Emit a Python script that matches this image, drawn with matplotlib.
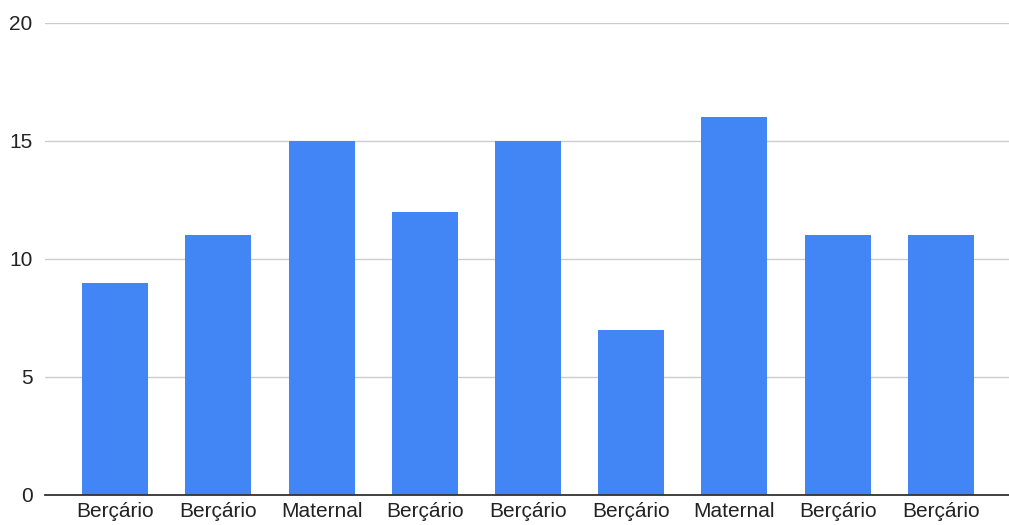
import matplotlib.pyplot as plt
import numpy as np

plt.rcParams['font.family'] = ['Liberation Sans', 'DejaVu Sans']

categorias = ['Berçário', 'Berçário', 'Maternal', 'Berçário', 'Berçário',
              'Berçário', 'Maternal', 'Berçário', 'Berçário']
valores = [9, 11, 15, 12, 15, 7, 16, 11, 11]
yticks = [0, 5, 10, 15, 20]

fig = plt.figure(figsize=(10.09, 5.25), dpi=100)
ax = fig.add_axes([45/1009, 30/525, 964/1009, 472/525])

x = np.arange(len(valores))
ax.bar(x, valores, width=0.64, color='#4285f4', zorder=3)

ax.set_xlim(-0.68, 8.66)
ax.set_ylim(0, 20)
ax.set_yticks(yticks)
ax.set_xticks(x)
ax.set_xticklabels(categorias)
ax.grid(axis='y', color='#cccccc', linewidth=1, zorder=0)
for s in ['top', 'right', 'left']:
    ax.spines[s].set_visible(False)
ax.spines['bottom'].set_color('#333333')
ax.spines['bottom'].set_linewidth(1.3)
ax.spines['bottom'].set_zorder(4)
ax.tick_params(axis='both', length=0, labelsize=15, colors='#222222')
ax.tick_params(axis='y', pad=9)
ax.tick_params(axis='x', pad=5)

plt.savefig('out.png', dpi=100)
